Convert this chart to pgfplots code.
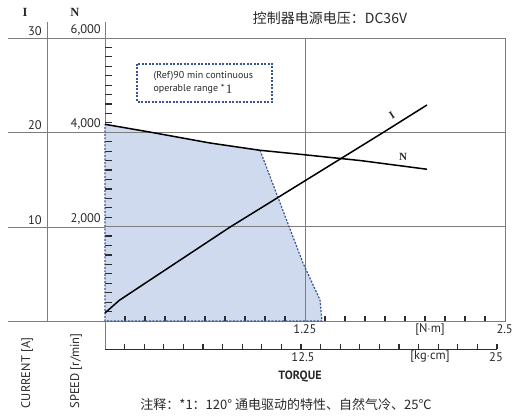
\documentclass[border=0pt]{standalone}
\usepackage{pgfplots}
\pgfplotsset{compat=1.18}
\usepackage{fontspec}
\setmainfont{PT Sans}
\newfontfamily\seriffont{Liberation Serif}
\newfontfamily\cjk{Noto Sans CJK SC}
\definecolor{regfill}{RGB}{208,218,238}
\definecolor{regline}{RGB}{55,85,150}
\definecolor{frame}{RGB}{125,125,125}
\definecolor{txt}{RGB}{40,40,40}
\definecolor{tickc}{RGB}{45,45,45}
\begin{document}
\begin{tikzpicture}[x=1pt,y=1pt]
\useasboundingbox (0,0) rectangle (513,417);
% outer table lines
\begin{scope}[frame, line width=0.9pt]
\draw (8,379) -- (105,379);
\draw (8,285) -- (105,285);
\draw (8,190) -- (105,190);
\draw (8,96) -- (105,96);
\draw (47,395) -- (47,96);
\draw (105,395) -- (105,68);
\end{scope}
% kg cm axis
\draw[tickc, line width=0.9pt] (105,68) -- (497,68);
\foreach \i in {1,...,20} \draw[tickc, line width=1.2pt] ({105+\i*19.6},68) -- ++(0,5);

\begin{axis}[
  at={(105pt,96pt)}, anchor=south west,
  width=400pt, height=283pt, scale only axis,
  xmin=0, xmax=2.5, ymin=0, ymax=6000,
  clip=false,
  axis line style={frame, line width=0.9pt},
  xtick=\empty, ytick=\empty,
]
\addplot[fill=regfill, draw=none] coordinates {(0,0) (0,4170) (0.28,4006) (0.656,3774) (0.969,3619) (1.2375,1228) (1.344,444) (1.356,0)} -- cycle;
\draw[frame, line width=0.9pt] (axis cs:0,2000) -- (axis cs:2.5,2000);
\draw[frame, line width=0.9pt] (axis cs:0,4000) -- (axis cs:2.5,4000);
\draw[frame, line width=0.9pt] (axis cs:1.25,0) -- (axis cs:1.25,6000);
\pgfplotsinvokeforeach{200,400,600,800,1000,1200,1400,1600,1800,2200,2400,2600,2800,3000,3200,3400,3600,3800,4200,4400,4600,4800,5000,5200,5400,5600,5800}{
  \draw[tickc, line width=1.2pt] (axis cs:0,#1) -- ++(7pt,0pt);
}
\pgfplotsinvokeforeach{0.125,0.25,0.375,0.5,0.625,0.75,0.875,1,1.125,1.375,1.5,1.625,1.75,1.875,2,2.125,2.25,2.375}{
  \draw[tickc, line width=1.2pt] (axis cs:#1,0) -- ++(0pt,5pt);
}
\addplot[regline, line width=1.2pt, dash pattern=on 2pt off 1.5pt] coordinates {(0.969,3619) (1.2375,1228) (1.344,444) (1.356,0) (0,0) (0,4170)};
\addplot[black, line width=1.5pt] coordinates {(0,4170) (0.28,4006) (0.656,3774) (0.969,3619) (1.2375,3528) (1.6,3400) (2.0125,3217)};
\end{axis}
\begin{axis}[
  at={(105pt,96pt)}, anchor=south west,
  width=400pt, height=283pt, scale only axis,
  xmin=0, xmax=2.5, ymin=0, ymax=30,
  hide axis, clip=false,
]
\addplot[black, line width=1.5pt] coordinates {(0,0.85) (0.09,2.2) (0.781,9.95) (1.74,20) (2.0125,22.9)};
\end{axis}
% box
\draw[regline, line width=1.2pt, dash pattern=on 2pt off 1.5pt] (137,353) rectangle (272,315);
\node[anchor=west, txt, font=\fontsize{10}{11}\selectfont] at (150,341) {(Ref)90 min continuous};
\node[anchor=west, txt, font=\fontsize{10}{11}\selectfont] at (150,328.5) {operable range *\,\raisebox{-2pt}{\seriffont\fontsize{13}{14}\selectfont 1}};
% column heads
\node[txt, font=\seriffont\bfseries\fontsize{12.5}{14}\selectfont] at (25,405) {I};
\node[txt, font=\seriffont\bfseries\fontsize{12.5}{14}\selectfont] at (75,405) {N};
% left labels
\begin{scope}[txt, font=\fontsize{12.5}{13}\selectfont]
\node[anchor=south east, inner sep=1pt] at (43,380) {30};
\node[anchor=south east, inner sep=1pt] at (102,380) {6,000};
\node[anchor=south east, inner sep=1pt] at (43,286) {20};
\node[anchor=south east, inner sep=1pt] at (102,286) {4,000};
\node[anchor=south east, inner sep=1pt] at (43,191) {10};
\node[anchor=south east, inner sep=1pt] at (102,191) {2,000};
\node at (305,88) {1.25};
\node at (430,88) {[N$\cdot$m]};
\node[anchor=east, inner sep=0pt] at (513,88) {2.5};
\node at (303,60) {12.5};
\node at (430,60) {[kg$\cdot$cm]};
\node at (496,60) {25};
\node[font=\bfseries\fontsize{12}{13}\selectfont] at (300,40) {TORQUE};
\node[rotate=90] at (27,44) {CURRENT [A]};
\node[rotate=90] at (76,46) {SPEED [r/min]};
\end{scope}
% curve labels
\node[txt, font=\seriffont\bfseries\fontsize{11}{12}\selectfont, rotate=33] at (392,302) {I};
\node[txt, font=\seriffont\bfseries\fontsize{11}{12}\selectfont] at (403,260) {N};
% title & note
\node[txt, font=\cjk\fontsize{14}{16}\selectfont] at (330,399) {控制器电源电压：DC36V};
\node[txt, font=\cjk\fontsize{13}{15}\selectfont] at (286,12) {注释：*1：120° 通电驱动的特性、自然气冷、25℃};
\end{tikzpicture}
\end{document}
